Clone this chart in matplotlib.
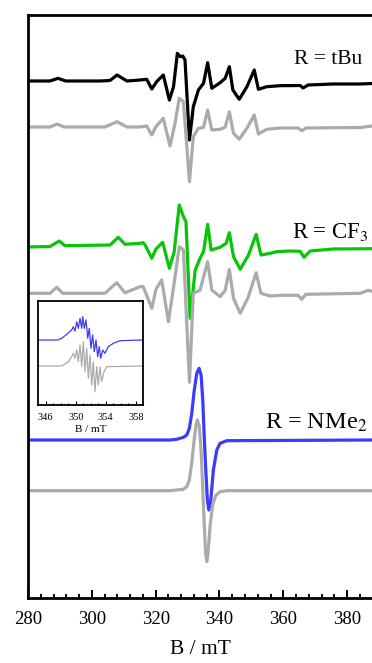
import matplotlib
matplotlib.use("Agg")
import matplotlib.pyplot as plt
from matplotlib.ticker import MultipleLocator, FixedLocator
import numpy as np

plt.rcParams['font.family'] = ['Liberation Serif', 'DejaVu Serif']
plt.rcParams['mathtext.fontset'] = 'stix'

# field (mT) / intensity (arb. units, baseline = 0)
tbu_B = [280.0, 286.9, 289.4, 291.8, 302.6, 305.7, 307.9, 311.0, 315.1, 317.2, 318.8, 320.3,
         322.4, 324.3, 325.6, 326.8, 327.7, 328.5, 329.2, 330.6, 331.8, 333.4, 335.0, 336.3,
         337.6, 340.2, 341.8, 343.1, 344.2, 346.2, 348.6, 350.9, 352.2, 354.8, 359.0, 365.3,
         366.2, 367.8, 375.6, 384.1, 387.8]
tbu_exp = [0, 0, 2.7, 0, 0, 0.5, 6, 0, 1, 1.7, -8, -0.7,
           6, -19, -5.7, 27.7, 24.3, 25, 21, -59, -25.7, -9, -2.3, 18.3,
           -7.3, -1.7, 2.7, 14.3, -9, -18.3, -5.7, 11, -8.3, -5.7, -4.7, -4.5,
           -7, -4, -3, -3, -2.5]

tbu_sim_B = [280.0, 286.9, 289.1, 291.3, 304.1, 307.9, 311.0, 315.1, 317.2, 318.8, 320.1, 322.4,
             324.5, 326.1, 327.4, 328.7, 330.6, 331.8, 333.4, 335.0, 336.3, 337.6, 340.2, 341.8,
             343.1, 344.4, 346.2, 348.6, 350.9, 352.2, 354.8, 359.0, 364.6, 365.9, 367.1, 384.1,
             387.8]
tbu_sim = [0, 0, 3, 0, 0, 5.3, 0, 0, 1, -8, 0.3, 8.7,
           -19, 4, 28.7, 25.3, -54.7, -9.7, -1.3, -0.5, 17, -3, -2.3, 0,
           15.3, -6.3, -12.3, -1.3, 12, -7, -2.3, -1, -1, -3.7, -1, -0.5,
           1]

cf3_B = [280.0, 286.9, 289.8, 291.6, 305.7, 308.3, 310.4, 315.1, 316.1, 316.7, 318.8, 320.1,
         322.2, 324.3, 325.8, 327.4, 328.7, 329.5, 330.8, 332.4, 333.9, 335.0, 336.3, 337.4,
         340.2, 342.1, 343.1, 344.4, 346.5, 349.1, 351.5, 353.0, 355.9, 358.0, 362.1, 365.3,
         366.5, 368.4, 375.6, 387.8]
cf3_exp = [0, 0.5, 6, 1.3, 2, 9.7, 2.7, 3.7, 4.3, 2, -11.3, -2,
           4.7, -21.3, -5, 42, 30.3, 25.3, -71.3, -23, -11.3, -4.7, 22.7, -3,
           -0.3, 3.7, 14.3, -9.7, -22.3, -8, 12.7, -8, -6.3, -4.7, -4, -4.3,
           -10.3, -4, -2, -1.7]

cf3_sim_B = [280.0, 286.9, 289.0, 290.9, 304.1, 307.8, 310.4, 315.1, 316.1, 318.8, 320.1, 321.9,
             324.0, 325.8, 327.4, 328.7, 330.6, 331.8, 333.9, 336.3, 337.6, 340.2, 341.8, 343.1,
             344.4, 346.5, 349.0, 351.5, 353.0, 355.9, 359.0, 364.6, 365.8, 367.1, 384.1, 386.6,
             387.8]
cf3_sim = [0, 0, 6, 0, 0, 10.6, 0.5, 6.6, 6.6, -15, 4, 13.3,
           -28.4, 10, 46.6, 43.3, -89, 0, 3, 31.6, 3.3, -3.4, 3, 24,
           -5, -20, -4, 20.6, 0, -2.7, -2, -2, -6, -1, 0, 3,
           2]

nme2_B = [280.0, 324.5, 326.6, 328.7, 329.75, 330.57, 331.32, 332.04, 332.89, 333.61, 334.24,
          334.77, 335.18, 335.71, 336.21, 336.65, 337.28, 338.09, 339.16, 340.19, 342.29, 387.8]
nme2_exp = [0, 0, 0.7, 2.7, 5, 11.7, 26.7, 48.3, 66.7, 71.7, 65,
            40, 6.7, -30, -60, -70, -60, -30, -10, -3.3, -0.7, 0]

nme2_sim_B = [280.0, 324.5, 328.69, 329.75, 330.57, 331.32, 332.04, 332.67, 333.08, 333.70,
              334.24, 334.71, 335.18, 335.65, 336.02, 336.43, 337.06, 337.84, 338.78, 340.19,
              342.39, 387.8]
nme2_sim = [0, 0, 1.4, 4, 11, 28, 50, 66, 70.7, 64,
            40, 6, -30, -62, -71, -62, -35, -15, -5, -1,
            0, 0]

# inset: NMe2 narrow sweep
ins_B = [345.0, 347.6, 348.12, 348.79, 349.45, 349.67, 349.89, 350.12, 350.33, 350.56, 350.79,
         350.92, 351.13, 351.36, 351.59, 351.80, 352.03, 352.25, 352.47, 352.69, 352.92, 353.13,
         353.32, 353.59, 353.89, 354.33, 355.0, 355.89, 359.0]
ins_exp = [0, 0, 1.7, 5.7, 10, 13.3, 9, 18.3, 11.7, 21.7, 11.7,
           23.3, 11.7, 20, 1.7, 11.7, -8.3, 5, -11.7, 0, -16.7, -6.7,
           -18.3, -10, -13.3, -6.7, -3.3, -0.7, 0]
ins_sim_B = [345.0, 348.0, 348.33, 349.0, 349.45, 349.67, 349.89, 350.12, 350.33, 350.56, 350.79,
             351.0, 351.23, 351.45, 351.67, 351.89, 352.12, 352.33, 352.56, 352.79, 353.0, 353.23,
             353.45, 353.76, 354.12, 359.0]
ins_sim = [0, 0, 1, 4.3, 9.3, 12.7, 7.7, 16, 4.3, 21, -0.7,
           24.3, -5.7, 17.7, -12.3, 11, -19, 4.3, -25.7, -0.7, -19, -0.7,
           -15.7, -5.7, -0.7, 0]
ins_ticks = [346, 350, 354, 358]

gray = '#ababab'
green = '#0ac40a'
blue = '#3b3bfa'
lw = 2.3

fig = plt.figure(figsize=(3.72, 6.63), dpi=100)
ax = fig.add_axes([28 / 372, 65 / 663, 344 / 372, 583 / 663])

traces = [
    (tbu_B, tbu_exp, 517, 'k'),
    (tbu_sim_B, tbu_sim, 471, gray),
    (cf3_B, cf3_exp, 351, green),
    (cf3_sim_B, cf3_sim, 304.7, gray),
    (nme2_B, nme2_exp, 158, blue),
    (nme2_sim_B, nme2_sim, 107.3, gray),
]
for B, y, off, c in traces:
    ax.plot(B, np.array(y) + off, color=c, lw=lw, solid_joinstyle='round')

ax.text(384.7, 539, 'R = tBu', ha='right', va='center', fontsize=15.5)
ax.text(386.9, 366, 'R = CF$_3$', ha='right', va='center', fontsize=16.5)
ax.text(386.3, 175, 'R = NMe$_2$', ha='right', va='center', fontsize=17.5)

ax.set_xlim(280, 387.8)
ax.set_ylim(0, 583)
ax.set_yticks([])
ax.spines['right'].set_visible(False)
for s in ['left', 'top', 'bottom']:
    ax.spines[s].set_linewidth(2.0)
ax.xaxis.set_major_locator(MultipleLocator(20))
ax.xaxis.set_minor_locator(MultipleLocator(4))
ax.tick_params(axis='x', which='major', direction='in', length=6, width=1.4, labelsize=13.5, pad=9)
ax.tick_params(axis='x', which='minor', direction='in', length=3, width=1.4)
ax.set_xlabel('B / mT', fontsize=15.5, labelpad=9)

# inset
ins = fig.add_axes([38.3 / 372, 258 / 663, 105 / 372, 104.3 / 663])
ins.plot(ins_B, ins_exp, color=blue, lw=0.9)
ins.plot(ins_sim_B, np.array(ins_sim) - 26, color=gray, lw=0.9)
ins.set_xlim(345, 359)
ins.set_ylim(-65, 39.3)
ins.set_yticks([])
for s in ins.spines.values():
    s.set_linewidth(1.3)
ins.xaxis.set_major_locator(FixedLocator(ins_ticks))
ins.xaxis.set_minor_locator(MultipleLocator(1))
ins.tick_params(axis='x', which='major', direction='in', length=3, width=0.8, labelsize=7.5, pad=6)
ins.tick_params(axis='x', which='minor', direction='in', length=1.5, width=0.8)
ins.set_xlabel('B / mT', fontsize=8, labelpad=2)

fig.savefig('out.png', dpi=100)
